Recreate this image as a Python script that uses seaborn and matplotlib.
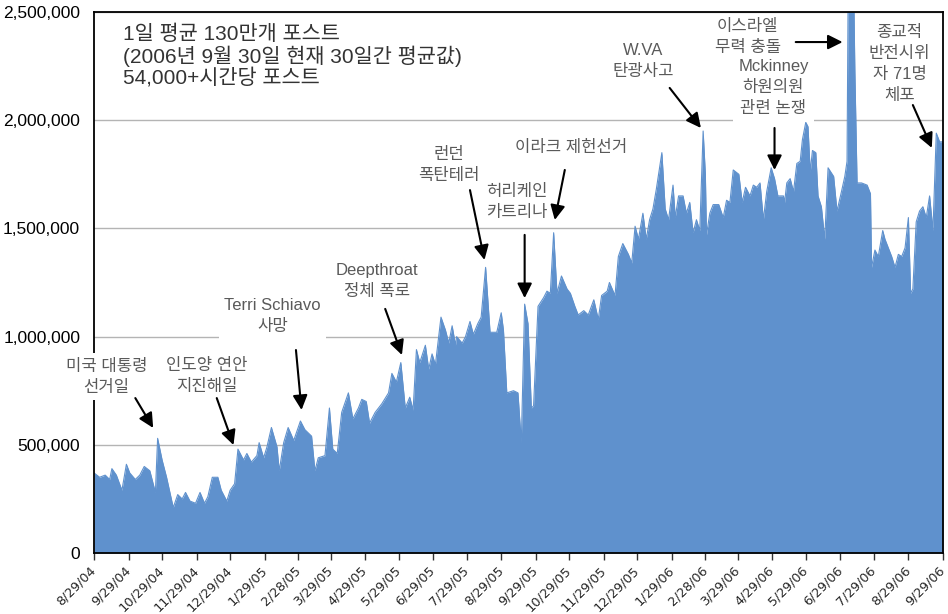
import pandas as pd
import matplotlib
matplotlib.use("Agg")
import matplotlib.pyplot as plt
import matplotlib.dates as mdates
import matplotlib.ticker as mticker
import seaborn as sns

# --- data ---
start_date = "2004-08-29"

# days since start_date
day_index = [
    0, 5, 10, 14, 16, 20, 25, 29, 32, 37,
    41, 45, 50, 55, 57, 61, 65, 71, 75, 79,
    82, 86, 91, 95, 99, 102, 106, 111, 114, 119,
    122, 126, 129, 134, 137, 141, 146, 148, 152, 155,
    159, 164, 166, 170, 174, 179, 185, 189, 193, 195,
    198, 201, 207, 211, 214, 218, 222, 228, 232, 237,
    240, 244, 247, 252, 258, 264, 267, 271, 275, 279,
    283, 286, 289, 292, 297, 300, 303, 306, 311, 315,
    318, 321, 324, 325, 330, 333, 337, 340, 344, 347,
    351, 355, 361, 365, 367, 370, 376, 380, 383, 386,
    389, 392, 394, 398, 403, 406, 409, 412, 415, 419,
    424, 427, 431, 434, 439, 443, 448, 452, 455, 460,
    462, 467, 470, 474, 479, 482, 485, 488, 492, 495,
    498, 501, 504, 509, 512, 515, 519, 521, 524, 528,
    531, 534, 537, 540, 543, 546, 548, 549, 552, 555,
    560, 564, 567, 570, 573, 578, 581, 584, 588, 591,
    594, 597, 600, 603, 607, 610, 613, 618, 619, 621,
    624, 627, 630, 633, 635, 638, 640, 642, 644, 647,
    649, 652, 655, 658, 663, 666, 670, 673, 675, 676,
    681, 682, 684, 688, 693, 696, 697, 700, 703, 707,
    709, 712, 715, 718, 721, 724, 727, 730, 732, 734,
    737, 740, 743, 746, 749, 752, 755, 758, 761,
]

# daily posts, thousands
posts_k = [
    370, 350, 360, 340, 390, 360, 290, 410, 370, 340,
    360, 400, 380, 280, 530, 430, 350, 210, 270, 250,
    280, 240, 230, 280, 230, 260, 350, 350, 290, 240,
    290, 320, 480, 430, 460, 420, 450, 510, 440, 490,
    580, 490, 380, 510, 580, 520, 610, 570, 550, 540,
    380, 440, 450, 670, 480, 460, 650, 740, 620, 670,
    710, 700, 600, 650, 690, 740, 830, 790, 880, 670,
    720, 660, 940, 880, 960, 850, 920, 870, 1090, 1030,
    970, 1050, 960, 1000, 970, 1000, 1070, 1010, 1060, 1090,
    1320, 1020, 1020, 1110, 1030, 740, 750, 740, 510, 1150,
    1060, 670, 680, 1140, 1180, 1210, 1200, 1480, 1200, 1280,
    1220, 1200, 1140, 1100, 1120, 1100, 1170, 1080, 1190, 1210,
    1250, 1190, 1370, 1430, 1380, 1340, 1510, 1450, 1570, 1450,
    1540, 1590, 1680, 1850, 1590, 1540, 1700, 1550, 1650, 1650,
    1570, 1620, 1480, 1540, 1490, 1950, 1750, 1470, 1570, 1610,
    1610, 1550, 1630, 1620, 1770, 1750, 1620, 1690, 1650, 1700,
    1690, 1710, 1540, 1670, 1780, 1730, 1650, 1650, 1620, 1710,
    1730, 1670, 1800, 1810, 1910, 1990, 1970, 1760, 1860, 1850,
    1650, 1600, 1450, 1780, 1740, 1580, 1670, 1740, 1810, 2600,
    2600, 2230, 1710, 1710, 1700, 1660, 1320, 1400, 1370, 1490,
    1450, 1410, 1370, 1320, 1380, 1370, 1410, 1550, 1200, 1220,
    1530, 1580, 1600, 1550, 1650, 1490, 1940, 1900, 1900,
]

tick_labels = [
    "8/29/04", "9/29/04", "10/29/04", "11/29/04", "12/29/04",
    "1/29/05", "2/28/05", "3/29/05", "4/29/05", "5/29/05", "6/29/05",
    "7/29/05", "8/29/05", "9/29/05", "10/29/05", "11/29/05", "12/29/05",
    "1/29/06", "2/28/06", "3/29/06", "4/29/06", "5/29/06", "6/29/06",
    "7/29/06", "8/29/06", "9/29/06",
]

y_ticks = [0, 500000, 1000000, 1500000, 2000000, 2500000]

header = "1일 평균 130만개 포스트\n(2006년 9월 30일 현재 30일간 평균값)\n54,000+시간당 포스트"

# label, text (day, value), arrow tail (day, value), arrow head (day, value)
events = [
    ("미국 대통령\n선거일", (11, 815000), (37, 716000), (53, 578000)),
    ("인도양 연안\n지진해일", (101, 818000), (110, 716000), (125, 499000)),
    ("Terri Schiavo\n사망", (160, 1095000), (181, 938000), (186, 661000)),
    ("Deepthroat\n정체 폭로", (254, 1257000), (261, 1128000), (276, 915000)),
    ("런던\n폭탄테러", (318, 1793000), (337, 1677000), (350, 1354000)),
    ("허리케인\n카트리나", (379, 1622000), (386, 1470000), (386, 1178000)),
    ("이라크 제헌선거", (428, 1876000), (422, 1770000), (413, 1539000)),
    ("W.VA\n탄광사고", (492, 2274000), (516, 2149000), (544, 1964000)),
    ("이스라엘\n무력 충돌", (586, 2384000), (629, 2361000), (671, 2361000)),
    ("Mckinney\n하원의원\n관련 논쟁", (609, 2150000), (610, 1964000), (610, 1770000)),
    ("종교적\n반전시위\n자 71명\n체포", (722, 2260000), (734, 2070000), (751, 1872000)),
]

# --- frame ---
t0 = pd.Timestamp(start_date)
df = pd.DataFrame({
    "date": t0 + pd.to_timedelta(day_index, unit="D"),
    "posts": [v * 1000 for v in posts_k],
})

sns.set_theme(style="white")
plt.rcParams["font.family"] = ["Liberation Sans", "Noto Sans CJK KR", "DejaVu Sans"]

blue = "#5f91cd"

fig = plt.figure(figsize=(9.48, 6.14), dpi=100)
ax = fig.add_axes([0.0992, 0.0993, 0.8955, 0.8812])

ax.fill_between(df["date"], df["posts"], color=blue, lw=0, zorder=2)
sns.lineplot(data=df, x="date", y="posts", color=blue, lw=0.8, ax=ax, zorder=2)

ax.set_xlim(df["date"].iloc[0], t0 + pd.Timedelta(days=761))
ax.set_ylim(0, 2500000)
ax.set_xlabel("")
ax.set_ylabel("")

# grid + ticks
ax.yaxis.grid(True, color="#b4b4b4", lw=1)
ax.set_axisbelow(True)
ax.set_yticks(y_ticks)
ax.yaxis.set_major_formatter(mticker.FuncFormatter(lambda v, p: f"{v:,.0f}"))
ax.tick_params(axis="y", length=0, labelsize=12.5, pad=10, labelcolor="black")

tick_dates = pd.to_datetime(tick_labels, format="%m/%d/%y")
ax.set_xticks(tick_dates)
ax.set_xticklabels(tick_labels, rotation=45, ha="right", va="center",
                   rotation_mode="anchor", fontsize=9.3, family="DejaVu Sans")
ax.tick_params(axis="x", bottom=True, length=5, width=1, color="#333333", pad=6)

for s in ax.spines.values():
    s.set_visible(True)
    s.set_color("black")
    s.set_linewidth(1.3)

# header text
fig.text(123 / 948, 1 - 25 / 614, header, ha="left", va="top", fontsize=15,
         color="#333333", linespacing=1.05)

# event annotations (white boxes hide grid lines and the left spine)
for label, txt, tail, head in events:
    tx = mdates.date2num(t0 + pd.Timedelta(days=txt[0]))
    ax.text(tx, txt[1], label, ha="center", va="center", fontsize=12,
            color="#5a5a5a", linespacing=1.5, zorder=4,
            bbox=dict(facecolor="white", edgecolor="none", pad=4))
    ax.annotate("",
                xy=(mdates.date2num(t0 + pd.Timedelta(days=head[0])), head[1]),
                xytext=(mdates.date2num(t0 + pd.Timedelta(days=tail[0])), tail[1]),
                arrowprops=dict(arrowstyle="-|>", color="black", lw=1.5,
                                mutation_scale=22, shrinkA=0, shrinkB=0),
                zorder=5)

fig.savefig("out.png", dpi=100)
